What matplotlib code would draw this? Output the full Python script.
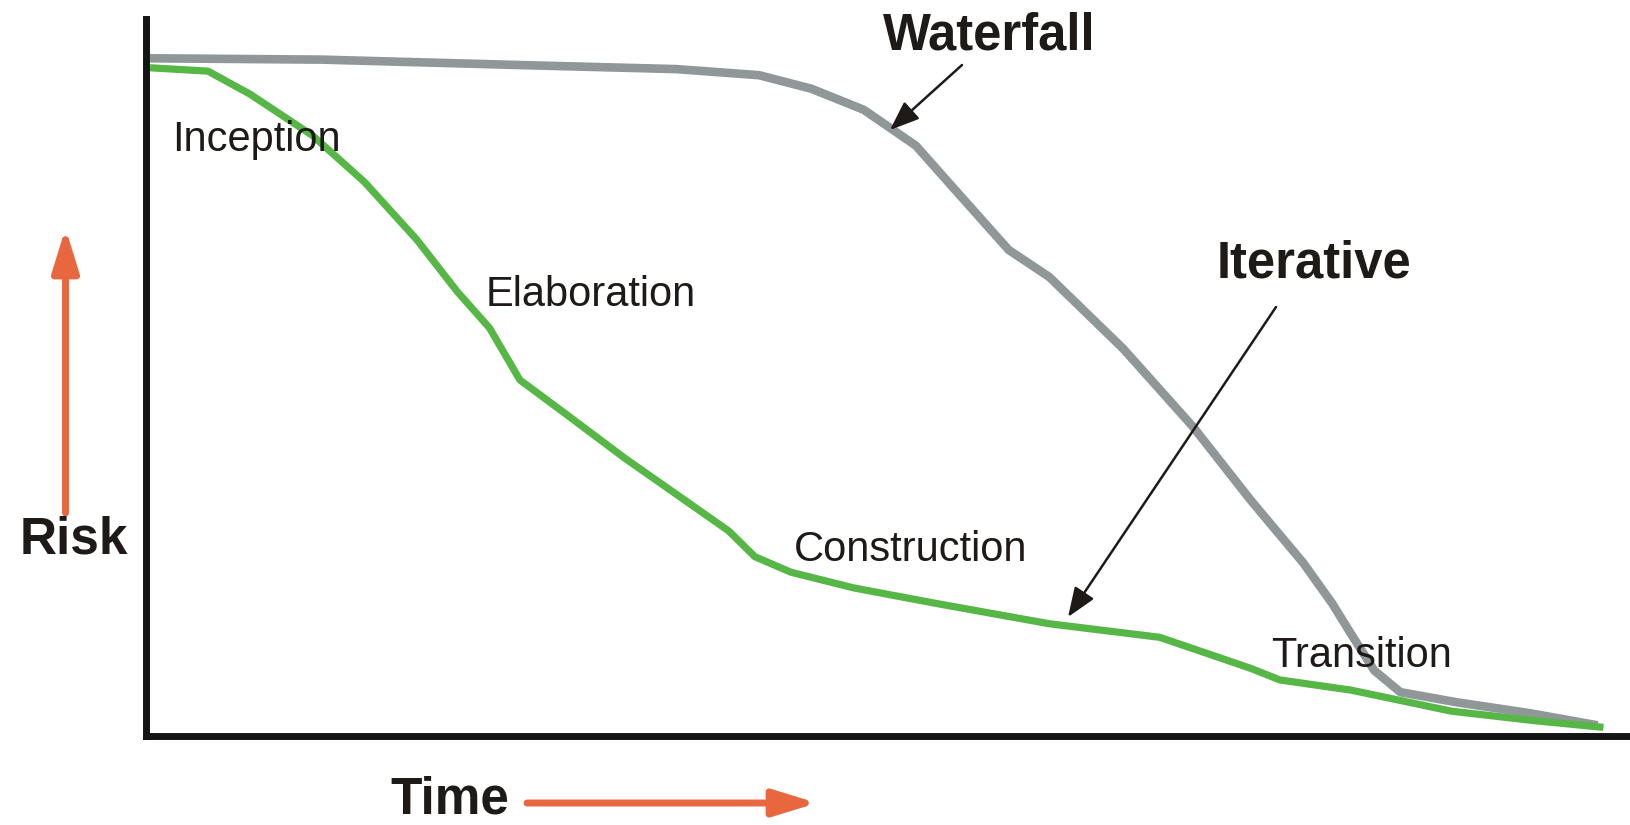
import matplotlib
matplotlib.use("Agg")
import matplotlib.pyplot as plt

# ---- data (time and risk in arbitrary units, 0-100) ----
waterfall_time = [0, 11.9, 25.5, 36.3, 42.0, 45.6, 49.2, 52.8, 55.7, 59.2, 62.0,
                  67.1, 71.9, 75.9, 79.5, 81.5, 82.8, 84.4, 86.2, 90.1, 95.1, 99.8]
waterfall_risk = [100.0, 99.8, 99.0, 98.4, 97.5, 95.5, 92.4, 87.1, 80.1, 71.7, 67.7,
                  57.1, 45.6, 34.7, 25.5, 19.5, 15.0, 9.6, 6.4, 4.9, 3.3, 1.5]

iterative_time = [0, 4.0, 6.9, 11.2, 14.8, 18.4, 21.2, 23.4, 25.5, 28.4, 32.7, 36.3,
                  39.9, 41.7, 44.2, 48.5, 54.2, 62.0, 69.6, 72.9, 75.9, 77.9, 82.8,
                  89.7, 95.4, 100.2]
iterative_risk = [98.6, 98.1, 94.7, 88.6, 81.7, 73.2, 65.5, 60.2, 52.5, 47.9, 41.0, 35.6,
                  30.2, 26.4, 24.1, 21.8, 19.5, 16.5, 14.5, 12.1, 9.9, 8.2, 6.7,
                  3.6, 2.2, 1.2]

phase_labels = ["Inception", "Elaboration", "Construction", "Transition"]
series_labels = ["Waterfall", "Iterative"]
axis_labels = ["Risk", "Time"]

W, H = 1631, 825
GRAY = "#8f9799"
GREEN = "#56b746"
ORANGE = "#e8673f"
INK = "#1e1a18"
FONT = "Liberation Sans"

fig = plt.figure(figsize=(W / 100, H / 100), dpi=100)
ax = fig.add_axes([146.5 / W, 1 - 735.5 / H, 1 - 146.5 / W, (735.5 - 19) / H])
ax.set_xlim(-0.24, 102.1)
ax.set_ylim(0, 105.8)

ax.plot(waterfall_time, waterfall_risk, color=GRAY, lw=6.2, solid_capstyle="butt",
        solid_joinstyle="round")
ax.plot(iterative_time, iterative_risk, color=GREEN, lw=5.2, solid_capstyle="butt",
        solid_joinstyle="round")

for s in ["top", "right"]:
    ax.spines[s].set_visible(False)
for s in ["left", "bottom"]:
    ax.spines[s].set_linewidth(5)
    ax.spines[s].set_color("#141414")
ax.set_xticks([])
ax.set_yticks([])


def fx(x):
    return x / W


def fy(y):
    return 1 - y / H


# phase labels (regular)
phase_pos = [(172, 151), (486, 306), (794, 561), (1271, 667)]
for lab, (x, y) in zip(phase_labels, phase_pos):
    fig.text(fx(x), fy(y), lab, fontsize=30, family=FONT, color=INK,
             ha="left", va="baseline")

# bold labels
bold_pos = [(883, 50), (1217, 277)]
for lab, (x, y) in zip(series_labels, bold_pos):
    fig.text(fx(x), fy(y), lab, fontsize=36.5, family=FONT, weight="bold",
             color=INK, ha="left", va="baseline")
fig.text(fx(20), fy(553), axis_labels[0], fontsize=37, family=FONT, weight="bold",
         color=INK, ha="left", va="baseline")
fig.text(fx(390), fy(814), axis_labels[1], fontsize=37, family=FONT, weight="bold",
         color=INK, ha="left", va="baseline")


def arrow(x0, y0, x1, y1, color, lw, hl, hw):
    ax.annotate("", xy=(x1, H - y1), xycoords="figure pixels",
                xytext=(x0, H - y0), textcoords="figure pixels",
                annotation_clip=False,
                arrowprops=dict(arrowstyle=f"-|>,head_length={hl},head_width={hw}",
                                mutation_scale=20, color=color, lw=lw,
                                shrinkA=0, shrinkB=0))


# pointer arrows
arrow(962, 65, 890, 130, INK, 1.8, 0.9, 0.35)
arrow(1276, 307, 1068, 617, INK, 1.8, 0.9, 0.35)
# axis arrows
arrow(65.5, 513, 65.5, 228, ORANGE, 5, 1.3, 0.4)
arrow(527, 803, 817, 803, ORANGE, 5, 1.3, 0.4)

fig.savefig("out.png", dpi=100, facecolor="white")
